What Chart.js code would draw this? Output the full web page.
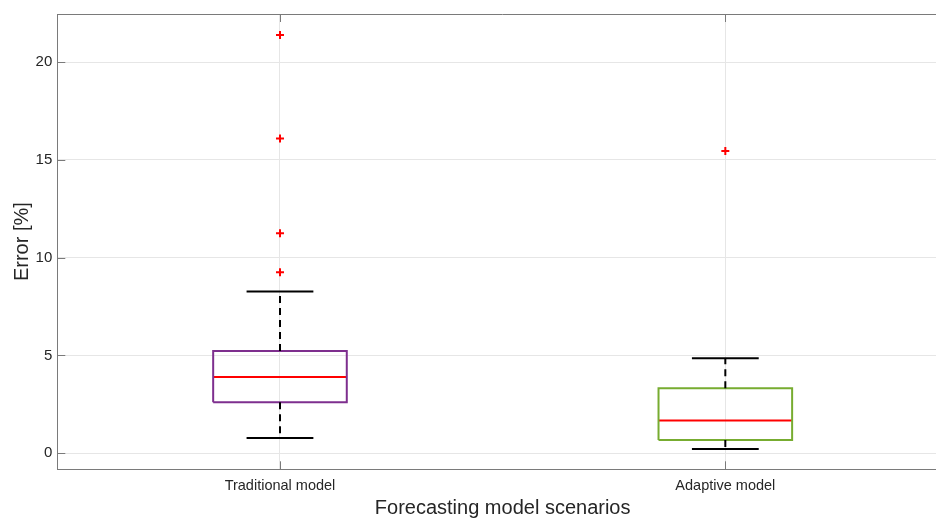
<!DOCTYPE html>
<html>
<head>
<meta charset="utf-8">
<title>Forecasting error by model</title>
<script src="https://cdn.jsdelivr.net/npm/chart.js@4.4.1/dist/chart.umd.min.js"></script>
<style>
  html, body { margin: 0; padding: 0; background: #fff; overflow: hidden; }
  #wrap { width: 954px; height: 518px; }
</style>
</head>
<body>
<div id="wrap"><canvas id="boxChart" width="954" height="518"></canvas></div>
<script>
// box plot statistics per scenario (error in %)
const categories = ['Traditional model', 'Adaptive model'];
const q1 = [2.61, 0.68];
const median = [3.90, 1.68];
const q3 = [5.23, 3.33];
const whiskerLow = [0.78, 0.22];
const whiskerHigh = [8.27, 4.86];
const outliers = [[9.25, 11.25, 16.1, 21.38], [15.45]];
const yTicks = [0, 5, 10, 15, 20];

const boxColors = ['#7E2F8E', '#77AC30'];
const medianColor = '#FF0000';
const axisColor = '#7a7a7a';
const gridColor = '#e6e6e6';
const textColor = '#262626';

const BOX_HALF = 0.15;   // half box width in category units
const CAP_HALF = 0.075;  // half whisker cap width
const TICK_LEN = 8;

function segment(points, color, dash) {
    return {
        data: points,
        showLine: true,
        borderColor: color,
        borderWidth: 2,
        borderDash: dash || [],
        pointRadius: 0,
        fill: false,
        tension: 0,
    };
}

/**
 * Builds the line datasets that make up one box with its whiskers.
 */
function boxDatasets(i) {
    const x = i + 1;
    return [
        segment([{ x, y: q1[i] }, { x, y: whiskerLow[i] }], '#000', [7, 5]),
        segment([{ x, y: q3[i] }, { x, y: whiskerHigh[i] }], '#000', [7, 5]),
        segment([{ x: x - CAP_HALF, y: whiskerLow[i] }, { x: x + CAP_HALF, y: whiskerLow[i] }], '#000'),
        segment([{ x: x - CAP_HALF, y: whiskerHigh[i] }, { x: x + CAP_HALF, y: whiskerHigh[i] }], '#000'),
        segment([
            { x: x - BOX_HALF, y: q1[i] },
            { x: x + BOX_HALF, y: q1[i] },
            { x: x + BOX_HALF, y: q3[i] },
            { x: x - BOX_HALF, y: q3[i] },
            { x: x - BOX_HALF, y: q1[i] },
        ], boxColors[i]),
        segment([{ x: x - BOX_HALF, y: median[i] }, { x: x + BOX_HALF, y: median[i] }], medianColor),
        {
            data: outliers[i].map(v => ({ x, y: v })),
            showLine: false,
            pointStyle: 'cross',
            pointRadius: 4,
            borderWidth: 2,
            borderColor: medianColor,
        },
    ];
}

// top frame line and inward tick marks, MATLAB style
const axesFrame = {
    id: 'axesFrame',
    afterDraw(chart) {
        const { ctx, chartArea, scales } = chart;
        const { left, right, top, bottom } = chartArea;
        ctx.save();
        ctx.strokeStyle = axisColor;
        ctx.lineWidth = 1;
        ctx.beginPath();
        const t = Math.round(top) + 0.5;
        ctx.moveTo(left, t);
        ctx.lineTo(right, t);
        ctx.moveTo(Math.round(right) - 0.5, top);
        ctx.lineTo(Math.round(right) - 0.5, bottom);
        yTicks.forEach(v => {
            const py = Math.round(scales.y.getPixelForValue(v)) + 0.5;
            ctx.moveTo(left, py);
            ctx.lineTo(left + TICK_LEN, py);
            ctx.moveTo(right, py);
            ctx.lineTo(right - TICK_LEN, py);
        });
        categories.forEach((c, i) => {
            const px = Math.round(scales.x.getPixelForValue(i + 1)) + 0.5;
            ctx.moveTo(px, bottom);
            ctx.lineTo(px, bottom - TICK_LEN);
            ctx.moveTo(px, top);
            ctx.lineTo(px, top + TICK_LEN);
        });
        ctx.stroke();
        ctx.restore();
    }
};

let datasets = [];
categories.forEach((c, i) => { datasets = datasets.concat(boxDatasets(i)); });

new Chart(document.getElementById('boxChart'), {
    type: 'scatter',
    data: { datasets },
    options: {
        responsive: false,
        animation: false,
        events: [],
        layout: { padding: { top: 13.7, right: 0, left: 0, bottom: 0 } },
        plugins: {
            legend: { display: false },
            tooltip: { enabled: false },
        },
        scales: {
            x: {
                type: 'linear',
                min: 0.5,
                max: 2.5,
                afterBuildTicks: (scale) => {
                    scale.ticks = categories.map((c, i) => ({ value: i + 1 }));
                },
                afterFit: (scale) => {
                    scale.height = 48.7;
                    scale.paddingLeft = 0;
                    scale.paddingRight = 0;
                },
                ticks: {
                    padding: 8,
                    color: textColor,
                    font: { family: 'Liberation Sans, Arial, sans-serif', size: 14.5 },
                    callback: (value) => categories[value - 1],
                },
                grid: { color: gridColor, drawTicks: false },
                border: { color: axisColor },
                title: {
                    display: true,
                    text: 'Forecasting model scenarios',
                    color: textColor,
                    font: { family: 'Liberation Sans, Arial, sans-serif', size: 20, lineHeight: 1 },
                    padding: 0,
                },
            },
            y: {
                type: 'linear',
                min: -0.82,
                max: 22.46,
                afterBuildTicks: (scale) => {
                    scale.ticks = yTicks.map(v => ({ value: v }));
                },
                afterFit: (scale) => { scale.width = 57.3; },
                ticks: {
                    padding: 5,
                    color: textColor,
                    font: { family: 'Liberation Sans, Arial, sans-serif', size: 15 },
                },
                grid: { color: gridColor, drawTicks: false },
                border: { color: axisColor },
                title: {
                    display: true,
                    text: 'Error [%]',
                    color: textColor,
                    font: { family: 'Liberation Sans, Arial, sans-serif', size: 20 },
                    padding: { top: 10, bottom: 0 },
                },
            },
        },
    },
    plugins: [axesFrame],
});
</script>
</body>
</html>
